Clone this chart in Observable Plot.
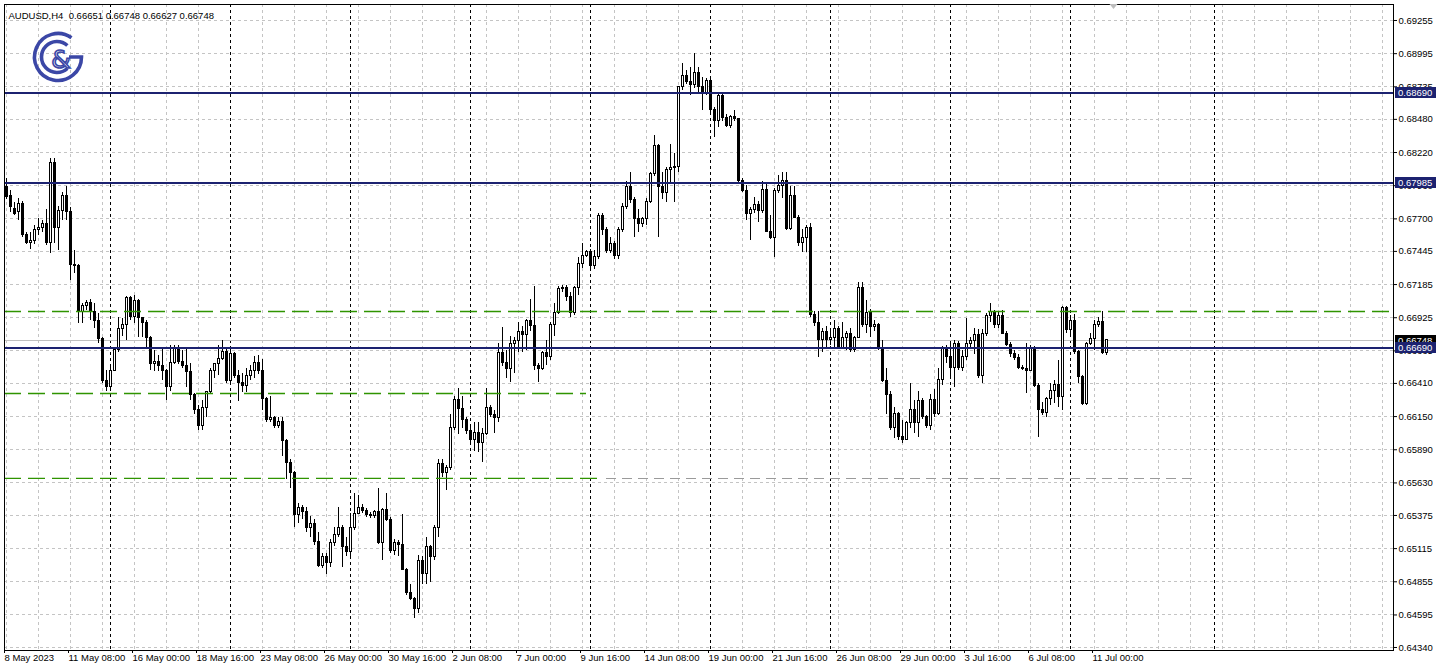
<!DOCTYPE html>
<html><head><meta charset="utf-8">
<script src="https://cdn.jsdelivr.net/npm/d3@7"></script>
<script src="https://cdn.jsdelivr.net/npm/@observablehq/plot@0.6"></script>
<style>html,body{margin:0;padding:0;background:#fff;} #chart{width:1438px;height:671px;}</style>
</head><body><div id="chart"></div>
<script>
const symbolTitle = "AUDUSD,H4  0.66651 0.66748 0.66627 0.66748";

const opens = [
.6795,.6788,.6778,.6775,.6782,.6757,.6751,.6753,.6761,.6763,
.6766,.6751,.6814,.6763,.6776,.6788,.6775,.6734,.6733,.6697,
.6702,.6704,.6697,.6690,.6676,.6643,.6638,.6651,.6667,.6684,
.6687,.6708,.6693,.6706,.6692,.6688,.6677,.6656,.6658,.6655,
.6651,.6638,.6657,.6668,.6658,.6655,.6650,.6632,.6620,.6608,
.6622,.6634,.6651,.6656,.6660,.6666,.6643,.6664,.6647,.6641,
.6639,.6647,.6651,.6657,.6651,.6629,.6612,.6614,.6608,.6611,
.6596,.6579,.6571,.6538,.6543,.6540,.6528,.6531,.6517,.6498,
.6505,.6500,.6516,.6522,.6528,.6513,.6509,.6528,.6539,.6543,
.6541,.6538,.6537,.6540,.6516,.6542,.6534,.6510,.6516,.6514,
.6495,.6477,.6472,.6464,.6502,.6492,.6513,.6505,.6528,.6578,
.6571,.6575,.6606,.6628,.6621,.6612,.6604,.6597,.6602,.6594,
.6601,.6622,.6616,.6614,.6665,.6657,.6652,.6672,.6674,.6681,
.6679,.6690,.6686,.6655,.6652,.6665,.6662,.6687,.6696,.6715,
.6716,.6709,.6696,.6716,.6735,.6741,.6744,.6733,.6740,.6772,
.6761,.6745,.6750,.6741,.6761,.6779,.6795,.6785,.6770,.6766,
.6770,.6783,.6805,.6827,.6795,.6790,.6808,.6810,.6811,.6873,
.6882,.6877,.6875,.6884,.6873,.6868,.6878,.6855,.6847,.6866,
.6849,.6843,.6850,.6848,.6800,.6792,.6774,.6777,.6781,.6776,
.6793,.6760,.6755,.6792,.6796,.6800,.6762,.6788,.6771,.6751,
.6755,.6763,.6695,.6688,.6675,.6681,.6675,.6677,.6684,.6669,
.6677,.6680,.6667,.6677,.6716,.6687,.6696,.6685,.6687,.6668,
.6643,.6632,.6606,.6617,.6599,.6597,.6610,.6620,.6610,.6627,
.6615,.6608,.6628,.6617,.6644,.6668,.6662,.6653,.6672,.6653,
.6662,.6672,.6674,.6679,.6647,.6680,.6694,.6697,.6687,.6694,
.6680,.6671,.6664,.6661,.6653,.6652,.6651,.6669,.6639,.6620,
.6618,.6629,.6635,.6640,.6630,.6700,.6683,.6690,.6666,.6646,
.6625,.6672,.6676,.6687,.6689,.66651];

const highs = [
.6802,.6792,.6783,.6786,.6784,.6759,.6759,.6765,.6770,.6769,
.6777,.6817,.6817,.6780,.6791,.6795,.6779,.6745,.6734,.6704,
.6706,.6707,.6704,.6696,.6677,.6651,.6655,.6669,.6693,.6692,
.6709,.6709,.6710,.6707,.6693,.6690,.6678,.6667,.6663,.6669,
.6652,.6671,.6671,.6671,.6667,.6668,.6657,.6633,.6624,.6628,
.6635,.6653,.6657,.6671,.6675,.6668,.6669,.6665,.6651,.6649,
.6653,.6655,.6662,.6663,.6660,.6630,.6631,.6615,.6614,.6614,
.6597,.6581,.6572,.6547,.6545,.6544,.6537,.6534,.6524,.6508,
.6508,.6519,.6528,.6544,.6530,.6520,.6539,.6555,.6553,.6546,
.6543,.6540,.6541,.6559,.6543,.6555,.6536,.6519,.6518,.6538,
.6496,.6483,.6473,.6506,.6505,.6520,.6514,.6530,.6581,.6581,
.6577,.6617,.6631,.6637,.6631,.6614,.6607,.6610,.6610,.6606,
.6637,.6624,.6620,.6672,.6685,.6667,.6678,.6677,.6689,.6686,
.6691,.6707,.6717,.6657,.6666,.6675,.6689,.6704,.6717,.6718,
.6718,.6712,.6717,.6740,.6751,.6745,.6746,.6745,.6774,.6774,
.6763,.6755,.6752,.6763,.6782,.6799,.6806,.6787,.6777,.6771,
.6786,.6806,.6835,.6828,.6806,.6810,.6828,.6821,.6874,.6892,
.6886,.6889,.6900,.6889,.6881,.6880,.6881,.6857,.6868,.6868,
.6852,.6851,.6855,.6849,.6802,.6796,.6779,.6787,.6784,.6799,
.6798,.6773,.6794,.6804,.6806,.6806,.6795,.6795,.6773,.6762,
.6765,.6766,.6697,.6697,.6684,.6686,.6684,.6690,.6686,.6689,
.6682,.6684,.6678,.6720,.6720,.6706,.6699,.6690,.6688,.6675,
.6653,.6635,.6622,.6618,.6612,.6611,.6641,.6628,.6635,.6629,
.6616,.6632,.6636,.6653,.6670,.6671,.6672,.6675,.6674,.6667,
.6692,.6677,.6684,.6683,.6683,.6696,.6704,.6698,.6697,.6698,
.6682,.6673,.6667,.6664,.6655,.6672,.6671,.6670,.6641,.6626,
.6630,.6641,.6643,.6659,.6701,.6701,.6694,.6695,.6667,.6647,
.6673,.6680,.6690,.6693,.6697,.66748];

const lows = [
.6785,.6775,.6773,.6769,.6755,.6750,.6746,.6750,.6757,.6759,
.6749,.6743,.6751,.6745,.6769,.6769,.6722,.6727,.6688,.6688,
.6698,.6690,.6684,.6672,.6641,.6635,.6637,.6650,.6665,.6678,
.6675,.6690,.6688,.6677,.6677,.6669,.6651,.6650,.6650,.6643,
.6628,.6635,.6656,.6656,.6653,.6638,.6628,.6617,.6604,.6604,
.6614,.6632,.6645,.6647,.6659,.6641,.6641,.6645,.6627,.6634,
.6634,.6643,.6645,.6648,.6620,.6610,.6610,.6606,.6606,.6584,
.6566,.6559,.6528,.6531,.6534,.6524,.6520,.6514,.6497,.6496,
.6491,.6497,.6513,.6520,.6497,.6505,.6505,.6526,.6538,.6539,
.6536,.6535,.6535,.6515,.6502,.6533,.6508,.6506,.6505,.6494,
.6475,.6471,.6457,.6461,.6483,.6483,.6485,.6502,.6520,.6567,
.6557,.6573,.6604,.6601,.6606,.6601,.6594,.6588,.6587,.6579,
.6600,.6614,.6602,.6610,.6654,.6645,.6642,.6649,.6665,.6665,
.6667,.6682,.6651,.6642,.6651,.6655,.6659,.6678,.6695,.6712,
.6705,.6693,.6694,.6710,.6731,.6740,.6729,.6730,.6738,.6757,
.6743,.6743,.6738,.6738,.6759,.6777,.6782,.6755,.6759,.6763,
.6765,.6782,.6803,.6755,.6785,.6783,.6798,.6783,.6806,.6871,
.6875,.6867,.6872,.6868,.6855,.6867,.6853,.6834,.6842,.6846,
.6842,.6841,.6846,.6798,.6791,.6769,.6753,.6774,.6767,.6774,
.6759,.6754,.6740,.6790,.6786,.6761,.6761,.6770,.6748,.6744,
.6744,.6693,.6686,.6661,.6665,.6669,.6671,.6669,.6668,.6668,
.6667,.6665,.6665,.6676,.6685,.6680,.6677,.6682,.6667,.6642,
.6617,.6604,.6598,.6596,.6594,.6596,.6606,.6602,.6599,.6613,
.6606,.6604,.6614,.6616,.6639,.6657,.6645,.6638,.6651,.6650,
.6659,.6668,.6664,.6645,.6641,.6678,.6689,.6684,.6684,.6679,
.6670,.6661,.6659,.6652,.6651,.6633,.6650,.6638,.6599,.6616,
.6614,.6624,.6625,.6622,.6620,.6680,.6679,.6664,.6641,.6624,
.6624,.6671,.6667,.6685,.6664,.66627];

const closes = [
.6787,.6779,.6774,.6782,.6757,.6751,.6753,.6761,.6763,.6766,
.6751,.6814,.6763,.6776,.6788,.6775,.6734,.6733,.6697,.6702,
.6704,.6697,.6690,.6676,.6643,.6638,.6651,.6667,.6684,.6687,
.6708,.6693,.6706,.6692,.6688,.6677,.6656,.6658,.6655,.6651,
.6638,.6657,.6668,.6658,.6655,.6650,.6632,.6620,.6608,.6622,
.6634,.6651,.6656,.6660,.6666,.6643,.6664,.6647,.6641,.6639,
.6647,.6651,.6657,.6651,.6629,.6612,.6614,.6608,.6611,.6596,
.6579,.6571,.6538,.6543,.6540,.6528,.6531,.6517,.6498,.6505,
.6500,.6516,.6522,.6528,.6513,.6509,.6528,.6539,.6543,.6541,
.6538,.6537,.6540,.6516,.6542,.6534,.6510,.6516,.6514,.6495,
.6477,.6472,.6464,.6502,.6492,.6513,.6505,.6528,.6578,.6571,
.6575,.6606,.6628,.6621,.6612,.6604,.6597,.6602,.6594,.6601,
.6622,.6616,.6614,.6665,.6657,.6652,.6672,.6674,.6681,.6679,
.6690,.6686,.6655,.6652,.6665,.6662,.6687,.6696,.6715,.6716,
.6709,.6696,.6716,.6735,.6741,.6744,.6733,.6740,.6772,.6761,
.6745,.6750,.6741,.6761,.6779,.6795,.6785,.6770,.6766,.6770,
.6783,.6805,.6827,.6795,.6790,.6808,.6810,.6811,.6873,.6882,
.6877,.6875,.6884,.6873,.6868,.6878,.6855,.6847,.6866,.6849,
.6843,.6850,.6848,.6800,.6792,.6774,.6777,.6781,.6776,.6793,
.6760,.6755,.6792,.6796,.6800,.6762,.6788,.6771,.6751,.6755,
.6763,.6695,.6688,.6675,.6681,.6675,.6677,.6684,.6669,.6677,
.6680,.6667,.6677,.6716,.6687,.6696,.6685,.6687,.6668,.6643,
.6632,.6606,.6617,.6599,.6597,.6610,.6620,.6610,.6627,.6615,
.6608,.6628,.6617,.6644,.6668,.6662,.6653,.6672,.6653,.6662,
.6672,.6674,.6679,.6647,.6680,.6694,.6697,.6687,.6694,.6680,
.6671,.6664,.6661,.6653,.6652,.6651,.6669,.6639,.6620,.6618,
.6629,.6635,.6640,.6630,.6700,.6683,.6690,.6666,.6646,.6625,
.6672,.6676,.6687,.6689,.6665,.66748];

// time axis (bar index -> label)
const timeTickBars = [0,16,32,48,64,80,96,112,128,144,160,176,192,208,224,240,256,272];
const timeTickLabels = ["8 May 2023","11 May 08:00","16 May 00:00","18 May 16:00","23 May 08:00","26 May 00:00","30 May 16:00","2 Jun 08:00","7 Jun 00:00","9 Jun 16:00","14 Jun 08:00","19 Jun 00:00","21 Jun 16:00","26 Jun 08:00","29 Jun 00:00","3 Jul 16:00","6 Jul 08:00","11 Jul 00:00"];
const weekSeparatorBars = [26,56,86,116,146,176,206,236,266,302];
const gridBars = [0,8,16,24,32,40,48,56,64,72,80,88,96,104,112,120,128,136,144,152,160,168,176,184,192,200,208,216,224,232,240,248,256,264,272,280,288,296,304,312,320,328,336,344];

// price axis
const priceTicks = [0.69255,0.68995,0.68735,0.68480,0.68220,0.67960,0.67700,0.67445,0.67185,0.66925,0.66665,0.66410,0.66150,0.65890,0.65630,0.65375,0.65115,0.64855,0.64595,0.64340];

// drawn levels
const blueLevels = [0.68690, 0.67985, 0.66690];
const bidPrice = 0.66748;
const greenLevels = [
  {price: 0.66974, from: -0.5, to: 346.75},
  {price: 0.66331, from: -0.5, to: 145},
  {price: 0.65665, from: -0.5, to: 148}
];
const grayLevels = [{price: 0.65665, from: 150, to: 298}];
const priceTagList = [
  {price: 0.66748, bg: "#000000"},
  {price: 0.68690, bg: "#1c2270"},
  {price: 0.67985, bg: "#1c2270"},
  {price: 0.66690, bg: "#1c2270"}
];
const shiftMarkerBar = 276.75;

const xDomain = [-0.5, 346.75];
const yDomain = [0.643164, 0.693804];

const bars = opens.map((o, i) => ({
  i, open: o, close: closes[i],
  high: Math.max(highs[i], o, closes[i]),
  low: Math.min(lows[i], o, closes[i])
}));
const labelByBar = new Map(timeTickBars.map((b, k) => [b, timeTickLabels[k]]));
const fmt5 = d3.format(".5f");
const NAVY = "#1c2270";
const GREEN = "#2f9400";
const FONT = "'Liberation Sans', Arial, sans-serif";

function tagsMark(tags) {
  return (index, scales, values, dims) => {
    const g = d3.create("svg:g").attr("font-family", FONT).attr("font-size", 9.5).attr("text-anchor", "start");
    const x0 = dims.width - dims.marginRight;
    for (const t of tags) {
      const y = Math.round(scales.y(t.price));
      g.append("rect").attr("x", x0 + 2).attr("y", y - 5).attr("width", 41).attr("height", 11).attr("fill", t.bg);
      g.append("text").attr("x", x0 + 5).attr("y", y + 0.5).attr("dy", "0.35em").attr("fill", "#fff").attr("text-anchor", "start").text(fmt5(t.price));
    }
    return g.node();
  };
}

function logoMark() {
  return (index, scales, values, dims) => {
    const c = "#3b47a6";
    const g = d3.create("svg:g").attr("fill", "none").attr("stroke", c).attr("stroke-width", 3.6);
    const cx = 58, cy = 57, R = 23.5, r = 15.5;
    const a0 = -55 * Math.PI / 180;
    g.append("path").attr("d",
      `M${cx + R*Math.cos(a0)},${cy + R*Math.sin(a0)} A${R},${R} 0 1 0 ${cx + R},${cy} L${cx + 11},${cy}`);
    const b0 = -48 * Math.PI / 180, b1 = 48 * Math.PI / 180;
    g.append("path").attr("d",
      `M${cx - 1 + r*Math.cos(b0)},${cy + r*Math.sin(b0)} A${r},${r} 0 1 0 ${cx - 1 + r*Math.cos(b1)},${cy + r*Math.sin(b1)}`);
    g.append("text").attr("x", 61).attr("y", 68).attr("text-anchor", "middle")
      .attr("font-family", "'DejaVu Sans', sans-serif").attr("font-size", 25)
      .attr("fill", "none").attr("stroke", c).attr("stroke-width", 1.6).text("&");
    return g.node();
  };
}

function shiftMarker() {
  return (index, scales, values, dims) => {
    const x = scales.x(shiftMarkerBar) + 0.5;
    const y = dims.marginTop;
    return d3.create("svg:path").attr("d", `M${x-4},${y} L${x+4},${y} L${x},${y+5} Z`).attr("fill", "#bdbdbd").node();
  };
}

const crisp = {shapeRendering: "crispEdges"};

const chart = Plot.plot({
  width: 1438, height: 671,
  marginLeft: 4, marginRight: 45, marginTop: 4, marginBottom: 21,
  style: {background: "#ffffff", color: "#000000", fontFamily: FONT, fontSize: "9.5px"},
  x: {type: "linear", domain: xDomain},
  y: {type: "linear", domain: yDomain},
  marks: [
    Plot.gridY(priceTicks, {stroke: "#c4c4c4", strokeOpacity: 1, strokeDasharray: "3,3", ...crisp}),
    Plot.gridX(gridBars, {stroke: "#c4c4c4", strokeOpacity: 1, strokeDasharray: "3,3", ...crisp}),
    Plot.ruleX(weekSeparatorBars, {stroke: "#000", strokeDasharray: "3,3", ...crisp}),
    Plot.ruleY([bidPrice], {stroke: "#c0c0c0", ...crisp}),
    Plot.ruleX(bars, {x: "i", y1: "low", y2: "high", stroke: "#000", ...crisp}),
    Plot.rect(bars, {
      x1: d => d.i - 0.25, x2: d => d.i + 0.25,
      y1: "open", y2: "close",
      fill: d => d.close >= d.open ? "#ffffff" : "#000000",
      stroke: "#000", ...crisp
    }),
    Plot.ruleY(greenLevels, {y: "price", x1: "from", x2: "to", stroke: GREEN, strokeWidth: 1.3, strokeDasharray: "17,7"}),
    Plot.ruleY(grayLevels, {y: "price", x1: "from", x2: "to", stroke: "#9a9a9a", strokeDasharray: "10,6", ...crisp}),
    Plot.ruleY(blueLevels, {stroke: NAVY, strokeWidth: 2, ...crisp}),
    Plot.frame({stroke: "#000", ...crisp}),
    Plot.axisY({ticks: priceTicks, anchor: "right", tickSize: 3, tickPadding: 2, tickFormat: fmt5, label: null, fontSize: 9.5}),
    Plot.axisX({ticks: timeTickBars, anchor: "bottom", tickSize: 3, tickPadding: 1, tickFormat: d => labelByBar.get(d), textAnchor: "start", dx: -2, label: null, fontSize: 9.5}),
    tagsMark(priceTagList),
    logoMark(),
    shiftMarker(),
    Plot.text([symbolTitle], {text: d => d, frameAnchor: "top-left", dx: 4, dy: 8, textAnchor: "start", fontSize: 9.5})
  ]
});
document.getElementById("chart").appendChild(chart);
</script>
</body></html>
